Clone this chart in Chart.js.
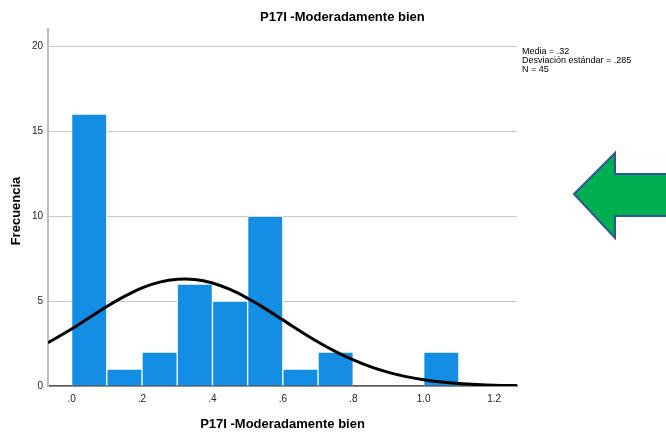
<!DOCTYPE html>
<html>
<head>
<meta charset="utf-8">
<script src="https://cdn.jsdelivr.net/npm/chart.js@4.4.1/dist/chart.umd.min.js"></script>
<style>
  html, body { margin: 0; padding: 0; background: #fff; }
  #wrap { width: 666px; height: 436px; position: relative; }
</style>
</head>
<body>
<div id="wrap"><canvas id="histo" width="666" height="436"></canvas></div>
<script>
// histogram bins (bin centre) and counts
const binCenters = [0.05, 0.15, 0.25, 0.35, 0.45, 0.55, 0.65, 0.75, 0.85, 0.95, 1.05];
const binCounts  = [16, 1, 2, 6, 5, 10, 1, 2, 0, 0, 2];

// normal curve
const curveX = [-0.067, 0, 0.05, 0.1, 0.15, 0.2, 0.25, 0.3, 0.35, 0.4, 0.45, 0.5, 0.55, 0.6, 0.65, 0.7, 0.75, 0.8, 0.85, 0.9, 0.95, 1.0, 1.05, 1.1, 1.15, 1.2, 1.265];
const curveY = [2.55, 3.35, 4.02, 4.68, 5.27, 5.77, 6.11, 6.28, 6.27, 6.06, 5.68, 5.16, 4.55, 3.89, 3.22, 2.59, 2.02, 1.53, 1.12, 0.80, 0.55, 0.37, 0.24, 0.15, 0.09, 0.05, 0.03];

const xTicks = [0, 0.2, 0.4, 0.6, 0.8, 1.0, 1.2];
const yTicks = [0, 5, 10, 15, 20];

const chartTitle = 'P17I -Moderadamente bien';
const xTitle = 'P17I -Moderadamente bien';
const yTitle = 'Frecuencia';
const statsLines = ['Media = .32', 'Desviación estándar = .285', 'N = 45'];

const FONT = '"Liberation Sans", Arial, sans-serif';

// titles, stats box and the green arrow
const decorPlugin = {
    id: 'decor',
    afterDraw(chart) {
        const c = chart.ctx;
        c.save();
        c.fillStyle = '#000';
        c.textBaseline = 'middle';
        c.textAlign = 'left';
        c.font = 'bold 13px ' + FONT;
        c.fillText(chartTitle, 260, 17);
        c.textAlign = 'center';
        c.fillText(xTitle, 282.5, 424);

        c.save();
        c.translate(16, 211);
        c.rotate(-Math.PI / 2);
        c.fillText(yTitle, 0, 0);
        c.restore();

        c.textAlign = 'left';
        c.font = '9px ' + FONT;
        statsLines.forEach((t, i) => c.fillText(t, 522, 52 + i * 9));

        // arrow
        c.beginPath();
        c.moveTo(574, 194);
        c.lineTo(615, 153);
        c.lineTo(615, 174);
        c.lineTo(667, 174);
        c.lineTo(667, 216);
        c.lineTo(615, 216);
        c.lineTo(615, 238);
        c.closePath();
        c.fillStyle = '#00b050';
        c.fill();
        c.lineWidth = 2;
        c.strokeStyle = '#2f5597';
        c.stroke();
        c.restore();
    }
};

const ctx = document.getElementById('histo').getContext('2d');
const histoChart = new Chart(ctx, {
    type: 'bar',
    data: {
        datasets: [
            {
                type: 'line',
                data: curveX.map((x, i) => ({ x: x, y: curveY[i] })),
                borderColor: '#000',
                borderWidth: 3,
                pointRadius: 0,
                tension: 0.4,
                order: 0
            },
            {
                data: binCenters.map((x, i) => ({ x: x, y: binCounts[i] })),
                backgroundColor: '#138ee4',
                borderColor: '#ffffff',
                borderWidth: 1,
                barPercentage: 1,
                categoryPercentage: 1,
                order: 1
            }
        ]
    },
    options: {
        responsive: false,
        animation: false,
        devicePixelRatio: 1,
        layout: { padding: { left: 0, top: 29, right: 149, bottom: 0 } },
        plugins: {
            legend: { display: false },
            tooltip: { enabled: false },
            title: { display: false }
        },
        scales: {
            x: {
                type: 'linear',
                min: -0.067,
                max: 1.265,
                offset: false,
                grid: { display: false, drawTicks: false },
                border: { display: true, color: '#555', width: 1.5 },
                afterBuildTicks: (scale) => { scale.ticks = xTicks.map(v => ({ value: v })); },
                afterFit: (scale) => { scale.height = 50; },
                ticks: {
                    padding: 7,
                    color: '#222',
                    font: { family: FONT, size: 10 },
                    maxRotation: 0,
                    autoSkip: false,
                    callback: (v) => v.toFixed(1).replace(/^0/, '')
                }
            },
            y: {
                min: 0,
                max: 21,
                grid: { color: '#c8c8c8', lineWidth: 1, drawTicks: false },
                border: { display: true, color: '#bdbdbd', width: 2 },
                afterBuildTicks: (scale) => { scale.ticks = yTicks.map(v => ({ value: v })); },
                afterFit: (scale) => { scale.width = 48; },
                ticks: {
                    padding: 5,
                    color: '#222',
                    font: { family: FONT, size: 10 }
                }
            }
        }
    },
    plugins: [decorPlugin]
});
</script>
</body>
</html>
